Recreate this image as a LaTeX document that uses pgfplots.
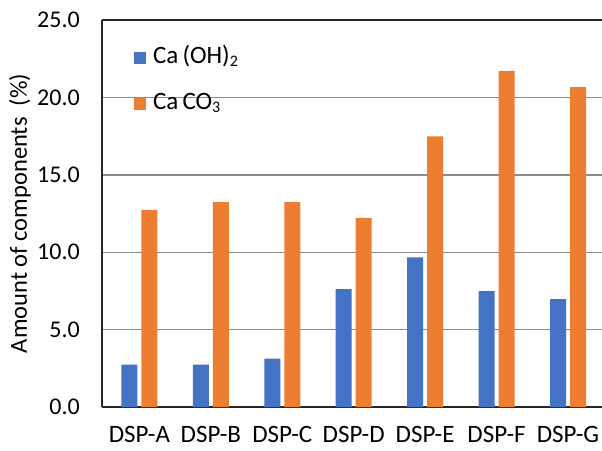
\documentclass[border=0pt]{standalone}
\usepackage{pgfplots}
\pgfplotsset{compat=1.18}
\usepackage{fontspec}
\setmainfont{Carlito}
\definecolor{cblue}{HTML}{4472C4}
\definecolor{corange}{HTML}{ED7D31}
\definecolor{cgrid}{HTML}{8C8C8C}
\definecolor{caxis}{HTML}{262626}
\newcommand{\sub}[1]{\raisebox{-3pt}{\fontsize{16pt}{16pt}\selectfont #1}}
\begin{document}
\begin{tikzpicture}
\begin{axis}[
  name=ax,
  scale only axis,
  width=500pt, height=387pt,
  xmin=-0.524, xmax=6.476,
  ymin=0, ymax=25,
  xtick={0,1,2,3,4,5,6},
  xticklabels={DSP-A,DSP-B,DSP-C,DSP-D,DSP-E,DSP-F,DSP-G},
  ytick={0,5,10,15,20},
  extra y ticks={25},
  extra y tick style={grid style={caxis, line width=2pt}},
  ymajorgrids,
  grid style={cgrid, line width=1.4pt},
  major tick length=0pt,
  axis lines*=left,
  axis line style={caxis, line width=2pt},
  /pgf/number format/assume math mode=true,
  yticklabel={\pgfmathprintnumber[fixed,fixed zerofill,precision=1]{\tick}},
  yticklabel style={font=\fontsize{24pt}{28pt}\selectfont, inner sep=0pt, anchor=east, xshift=-22pt},
  xticklabel style={font=\fontsize{25pt}{30pt}\selectfont, inner sep=0pt, anchor=base, yshift=-35pt},
  ylabel={Amount of components\ \ (\%)},
  ylabel style={font=\fontsize{24.5pt}{28pt}\selectfont, at={(axis description cs:-0.164,0.5)}, anchor=center},
  ybar=0pt,
  bar width=16pt,
  legend style={draw=none, fill=none, at={(axis cs:-0.12,21.06)}, anchor=west,
    font=\fontsize{25pt}{29pt}\selectfont,
    nodes={text height=17pt, text depth=6pt, inner sep=0pt},
    row sep=22.5pt, column sep=7pt},
  legend cell align=left,
  legend image code/.code={\fill[#1] (0pt,-6pt) rectangle (12pt,6pt);},
]
\addplot[fill=cblue, draw=none, bar shift=-10pt] coordinates {
  (0,2.73) (1,2.73) (2,3.12) (3,7.61) (4,9.67) (5,7.48) (6,6.97)};
\addlegendentry{Ca\,(OH)\sub{2}}
\addplot[fill=corange, draw=none, bar shift=10pt] coordinates {
  (0,12.73) (1,13.24) (2,13.24) (3,12.21) (4,17.48) (5,21.71) (6,20.67)};
\addlegendentry{Ca\,CO\sub{3}}
\end{axis}
\pgfresetboundingbox
\path[use as bounding box] ([shift={(-102pt,-43pt)}]ax.south west) rectangle ([shift={(0pt,20pt)}]ax.north east);
\end{tikzpicture}
\end{document}
